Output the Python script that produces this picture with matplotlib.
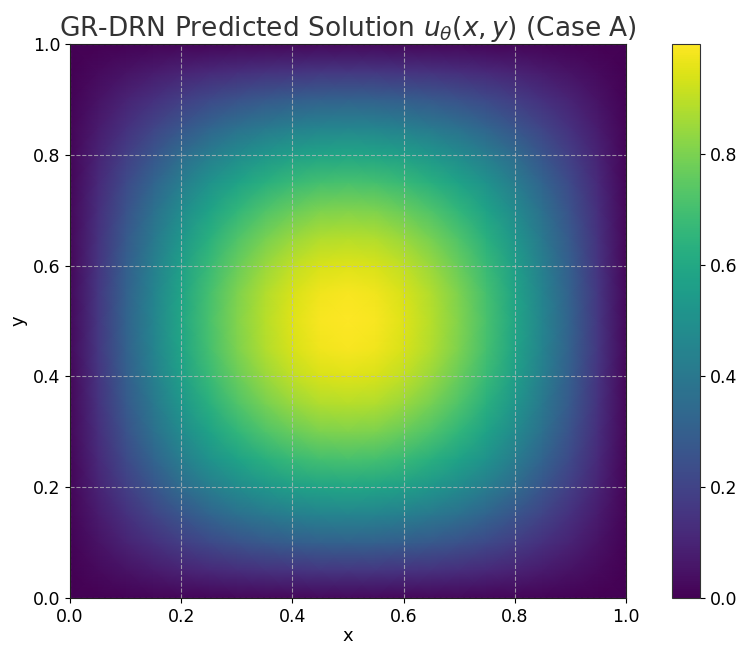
"""Heatmap of the GR-DRN predicted solution, Case A."""

import matplotlib

matplotlib.use("Agg")
import matplotlib.pyplot as plt
import numpy as np

# node positions along each axis
nodes = [0.0, 0.05, 0.1, 0.15, 0.2, 0.25, 0.3, 0.35, 0.4, 0.45, 0.5,
         0.55, 0.6, 0.65, 0.7, 0.75, 0.8, 0.85, 0.9, 0.95, 1.0]
# profile read along x through the peak (normalised)
profile_x = [0.02, 0.16, 0.31, 0.45, 0.59, 0.71, 0.81, 0.89, 0.95, 0.99, 1.0,
             0.99, 0.95, 0.89, 0.81, 0.71, 0.59, 0.45, 0.31, 0.16, 0.02]
# profile read along y through the peak (normalised)
profile_y = [0.02, 0.16, 0.31, 0.45, 0.59, 0.71, 0.81, 0.89, 0.95, 0.99, 1.0,
             0.99, 0.95, 0.89, 0.81, 0.71, 0.59, 0.45, 0.31, 0.16, 0.02]
peak_value = 0.998
cbar_ticks = [0.0, 0.2, 0.4, 0.6, 0.8]
axis_ticks = [0.0, 0.2, 0.4, 0.6, 0.8, 1.0]

plt.rcParams["font.family"] = ["DejaVu Sans"]

field = peak_value * np.outer(profile_y, profile_x)

fig = plt.figure(figsize=(7.39, 6.45), dpi=100)
ax = fig.add_axes([0.0947, 0.0729, 0.7523, 0.8589])
cax = fig.add_axes([0.909, 0.0729, 0.038, 0.8589])

mesh = ax.pcolormesh(nodes, nodes, field, shading="gouraud", cmap="viridis",
                     vmin=0.0, vmax=peak_value)
ax.set_xlim(0, 1)
ax.set_ylim(0, 1)
ax.set_xticks(axis_ticks)
ax.set_yticks(axis_ticks)
ax.tick_params(labelsize=12.5)
ax.grid(True, linestyle="--", color="#bbbbbb", linewidth=0.8, alpha=0.75)
for spine in ax.spines.values():
    spine.set_color("#222222")

ax.set_title(r"GR-DRN Predicted Solution $u_\theta(x, y)$ (Case A)",
             fontsize=19, pad=5, color="#333333")
ax.set_xlabel("x", fontsize=13, labelpad=1)
ax.set_ylabel("y", fontsize=13)

cbar = fig.colorbar(mesh, cax=cax, ticks=cbar_ticks)
cbar.ax.tick_params(labelsize=12.5)
cbar.outline.set_edgecolor("#333333")

fig.savefig("out.png", dpi=100)
plt.close(fig)
